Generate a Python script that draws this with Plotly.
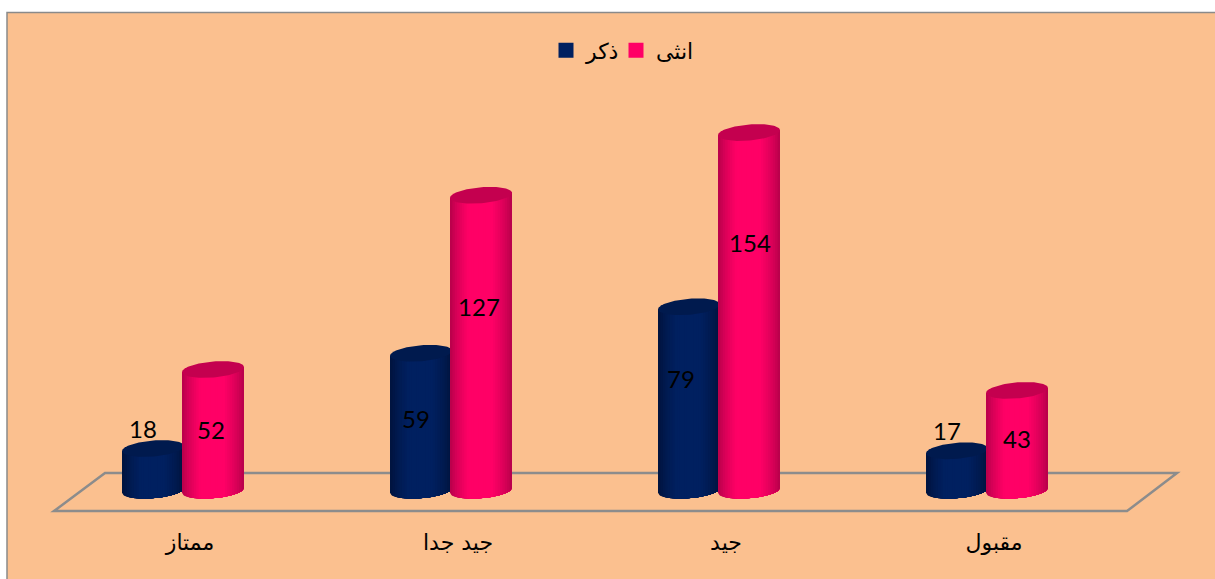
import numpy as np
import plotly.graph_objects as go

categories = ["ممتاز", "جيد جدا", "جيد", "مقبول"]
male_name = "ذكر"
female_name = "انثى"
male_values = [18, 59, 79, 17]
female_values = [52, 127, 154, 43]

# label anchor placement in pixels of the 1215x579 frame
male_label_px = [(143, 432), (416, 422), (681, 382), (947, 434)]
female_label_px = [(211, 433), (479, 310), (750, 246), (1017, 442)]

W, H = 1215, 579
PLOT_L, PLOT_R = 49, 1121
BASE_PX = 490.2
PX_PER_UNIT = 2.325
Y_MIN, Y_MAX = -15.8, 165
PLOT_T = BASE_PX - Y_MAX * PX_PER_UNIT
PLOT_B = BASE_PX - Y_MIN * PX_PER_UNIT
X_UNIT = (PLOT_R - PLOT_L) / 4


def dx(px):
    return (px - PLOT_L) / X_UNIT - 0.5


def dy(px):
    return (BASE_PX - px) / PX_PER_UNIT


def paper_x(px):
    return (px - PLOT_L) / (PLOT_R - PLOT_L)


def paper_y(px):
    return (PLOT_B - px) / (PLOT_B - PLOT_T)


HALF_W = 31 / X_UNIT
OFFSET = 30 / X_UNIT
TILT = 2.5 / PX_PER_UNIT
MINOR = 8 / PX_PER_UNIT
N_STRIPS = 26
TICK_SHIFT = 7 / X_UNIT


def mix(a, b, f):
    return "rgb(%d,%d,%d)" % tuple(round(a[i] + (b[i] - a[i]) * f) for i in range(3))


def shade(t, dark, mid):
    if t < 0.3:
        f = (t / 0.3) ** 0.7
    elif t > 0.68:
        f = ((1 - t) / 0.32) ** 0.7
    else:
        f = 1
    return mix(dark, mid, f)


def cylinder_traces(values, shift, dark, mid, top):
    traces = []
    for i in range(N_STRIPS):
        u0 = -1 + 2 * i / N_STRIPS
        xs, ys = [], []
        for pos, v in enumerate(values):
            u = np.linspace(u0, 1, 40)
            cx = pos + shift
            top_y = v + TILT * u
            bot_y = TILT * u - MINOR * np.sqrt(np.clip(1 - u * u, 0, 1))
            xs += list(cx + HALF_W * u) + list(cx + HALF_W * u[::-1]) + [None]
            ys += list(top_y) + list(bot_y[::-1]) + [None]
        traces.append(go.Scatter(x=xs, y=ys, mode="lines", fill="toself",
                                 fillcolor=shade((i + 0.5) / N_STRIPS, dark, mid),
                                 line=dict(width=0), showlegend=False, hoverinfo="skip"))
    xs, ys = [], []
    th = np.linspace(0, 2 * np.pi, 90)
    for pos, v in enumerate(values):
        xs += list(pos + shift + HALF_W * np.cos(th)) + [None]
        ys += list(v + TILT * np.cos(th) + MINOR * np.sin(th)) + [None]
    traces.append(go.Scatter(x=xs, y=ys, mode="lines", fill="toself", fillcolor=top,
                             line=dict(width=0), showlegend=False, hoverinfo="skip"))
    return traces


NAVY = (0, 32, 96)
NAVY_DARK = (0, 18, 58)
PINK = (255, 0, 102)
PINK_DARK = (176, 0, 72)

fig = go.Figure()
positions = list(range(len(categories)))
fig.add_trace(go.Bar(x=positions, y=male_values, name=male_name, width=0.2,
                     offset=-OFFSET - 0.1, marker=dict(color="#002060", line=dict(color="#002060", width=3)),
                     hoverinfo="skip", legend="legend"))
fig.add_trace(go.Bar(x=positions, y=female_values, name=female_name, width=0.2,
                     offset=OFFSET - 0.1, marker=dict(color="#FF0066", line=dict(color="#FF0066", width=3)),
                     hoverinfo="skip", legend="legend2"))
for tr in cylinder_traces(male_values, -OFFSET, NAVY_DARK, NAVY, "#001A4E"):
    fig.add_trace(tr)
for tr in cylinder_traces(female_values, OFFSET, PINK_DARK, PINK, "#C4004F"):
    fig.add_trace(tr)

fig.add_trace(go.Scatter(
    x=[dx(p[0]) for p in male_label_px + female_label_px],
    y=[dy(p[1]) for p in male_label_px + female_label_px],
    text=[str(v) for v in male_values + female_values],
    mode="text", textposition="middle center",
    textfont=dict(family="Lato", size=24, color="#000000"),
    showlegend=False, hoverinfo="skip"))

floor_px = [(54, 511), (105, 473), (1177, 473), (1127, 511)]
floor_path = "M " + " L ".join(f"{paper_x(a):.5f},{paper_y(b):.5f}" for a, b in floor_px) + " Z"

legend_style = dict(orientation="h", xanchor="left", y=paper_y(50), yanchor="middle",
                    font=dict(family="DejaVu Sans", size=22), bgcolor="rgba(0,0,0,0)")

fig.update_layout(
    width=W, height=H,
    margin=dict(l=PLOT_L, r=W - PLOT_R, t=PLOT_T, b=H - PLOT_B, pad=0),
    paper_bgcolor="#FFFFFF",
    plot_bgcolor="rgba(0,0,0,0)",
    barmode="overlay",
    font=dict(family="DejaVu Sans", color="#000000"),
    xaxis=dict(range=[-0.5, 3.5], tickvals=[p + TICK_SHIFT for p in positions], ticktext=categories,
               showgrid=False, zeroline=False, showline=False, ticks="",
               tickfont=dict(family="DejaVu Sans", size=22, color="#000000")),
    yaxis=dict(range=[Y_MIN, Y_MAX], visible=False),
    legend=dict(x=paper_x(546), **legend_style),
    legend2=dict(x=paper_x(616), **legend_style),
    shapes=[
        dict(type="rect", xref="paper", yref="paper",
             x0=paper_x(7), x1=paper_x(1230), y0=paper_y(600), y1=paper_y(12),
             fillcolor="#FBC08F", line=dict(color="#8A8A8A", width=1.5), layer="below"),
        dict(type="path", path=floor_path, xref="paper", yref="paper",
             line=dict(color="#8C8C8C", width=2.5), layer="below"),
    ],
)

fig.write_html("out.html", config={"displayModeBar": False},
               post_script="document.body.style.margin='0';document.documentElement.style.overflow='hidden';")
